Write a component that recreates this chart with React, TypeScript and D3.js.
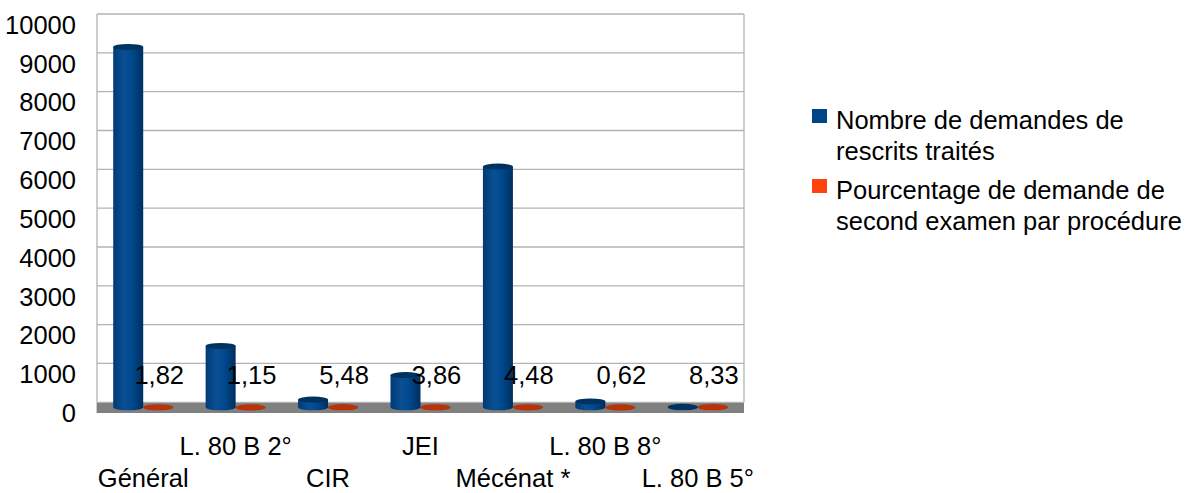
import React from "react";
import * as d3 from "d3";

const categories = ["Général", "L. 80 B 2°", "CIR", "JEI", "Mécénat *", "L. 80 B 8°", "L. 80 B 5°"];
const demandes = [9280, 1580, 200, 830, 6200, 150, 12];
const pourcentages = [1.82, 1.15, 5.48, 3.86, 4.48, 0.62, 8.33];
const pourcentageLabels = ["1,82", "1,15", "5,48", "3,86", "4,48", "0,62", "8,33"];
const yTicks = [0, 1000, 2000, 3000, 4000, 5000, 6000, 7000, 8000, 9000, 10000];
const legendItems = [
  { lines: ["Nombre de demandes de", "rescrits traités"], color: "#004586" },
  { lines: ["Pourcentage de demande de", "second examen par procédure"], color: "#ff420e" },
];

const W = 1190;
const H = 493;
const left = 97;
const right = 744;
const top = 14;
const bottom = 402.3;
const depth = 5;
const font = "'Liberation Sans', Arial, sans-serif";
const fs = 25.5;

export default function App() {
  const x = d3.scaleBand<string>().domain(categories).range([left, right]).paddingInner(0).paddingOuter(0);
  const y = d3.scaleLinear().domain([0, 10000]).range([bottom, top]);
  const bw = 30;
  const ry = 3;

  const cyl = (cx: number, val: number, key: string, grad: string, topColor: string) => {
    const yb = y(0) + depth;
    const yt = y(val) + depth;
    const rx = bw / 2;
    return (
      <g key={key}>
        <path
          d={`M${cx - rx},${yt} L${cx - rx},${yb} A${rx},${ry} 0 0 0 ${cx + rx},${yb} L${cx + rx},${yt} Z`}
          fill={`url(#${grad})`}
        />
        <ellipse cx={cx} cy={yt} rx={rx} ry={ry} fill={topColor} />
      </g>
    );
  };

  return (
    <svg width={W} height={H} style={{ position: "absolute", left: 0, top: 0 }}>
      <defs>
        <linearGradient id="gBlue" x1="0" x2="1" y1="0" y2="0">
          <stop offset="0" stopColor="#003a72" />
          <stop offset="0.35" stopColor="#0a4f94" />
          <stop offset="0.6" stopColor="#004a8f" />
          <stop offset="1" stopColor="#002f60" />
        </linearGradient>
        <linearGradient id="gOrange" x1="0" x2="1" y1="0" y2="0">
          <stop offset="0" stopColor="#a82a06" />
          <stop offset="0.5" stopColor="#c8380c" />
          <stop offset="1" stopColor="#a02806" />
        </linearGradient>
      </defs>
      <rect width={W} height={H} fill="#fff" />
      {yTicks.map((t) => (
        <line key={t} x1={left} x2={right} y1={y(t)} y2={y(t)} stroke="#b3b3b3" strokeWidth={1.3} />
      ))}
      <line x1={left} x2={left} y1={top} y2={y(0) + 11} stroke="#b3b3b3" strokeWidth={1.3} />
      <line x1={right} x2={right} y1={top} y2={y(0)} stroke="#b3b3b3" strokeWidth={1.3} />
      <rect x={left} y={y(0) + 0.7} width={right - left} height={10} fill="#808080" />
      {yTicks.map((t) => (
        <text
          key={"l" + t}
          x={76}
          y={y(t) + 13}
          textAnchor="end"
          dominantBaseline="middle"
          fontFamily={font}
          fontSize={fs}
          fill="#000"
        >
          {t}
        </text>
      ))}
      {categories.map((c, i) => {
        const cx0 = (x(c) as number) + x.bandwidth() / 2;
        return (
          <g key={c}>
            {cyl(cx0 - bw / 2, demandes[i], "b" + i, "gBlue", "#00325f")}
            {cyl(cx0 + bw / 2, pourcentages[i], "o" + i, "gOrange", "#b8320a")}
          </g>
        );
      })}
      {categories.map((c, i) => {
        const cx0 = (x(c) as number) + x.bandwidth() / 2;
        return (
          <text
            key={"v" + i}
            x={cx0 + bw / 2 + 1}
            y={y(0) - 25}
            textAnchor="middle"
            dominantBaseline="middle"
            fontFamily={font}
            fontSize={fs}
            fill="#000"
          >
            {pourcentageLabels[i]}
          </text>
        );
      })}
      {categories.map((c, i) => {
        const cx0 = (x(c) as number) + x.bandwidth() / 2;
        return (
          <text
            key={"x" + i}
            x={cx0}
            y={i % 2 === 0 ? 480 : 448}
            textAnchor="middle"
            dominantBaseline="middle"
            fontFamily={font}
            fontSize={fs}
            fill="#000"
          >
            {c}
          </text>
        );
      })}
      {legendItems.map((it, i) => (
        <g key={"lg" + i}>
          <rect x={812} y={109 + i * 70} width={15} height={14} fill={it.color} />
          {it.lines.map((ln, j) => (
            <text
              key={j}
              x={836}
              y={122 + i * 70 + j * 31}
              dominantBaseline="middle"
              fontFamily={font}
              fontSize={fs}
              fill="#000"
            >
              {ln}
            </text>
          ))}
        </g>
      ))}
    </svg>
  );
}
